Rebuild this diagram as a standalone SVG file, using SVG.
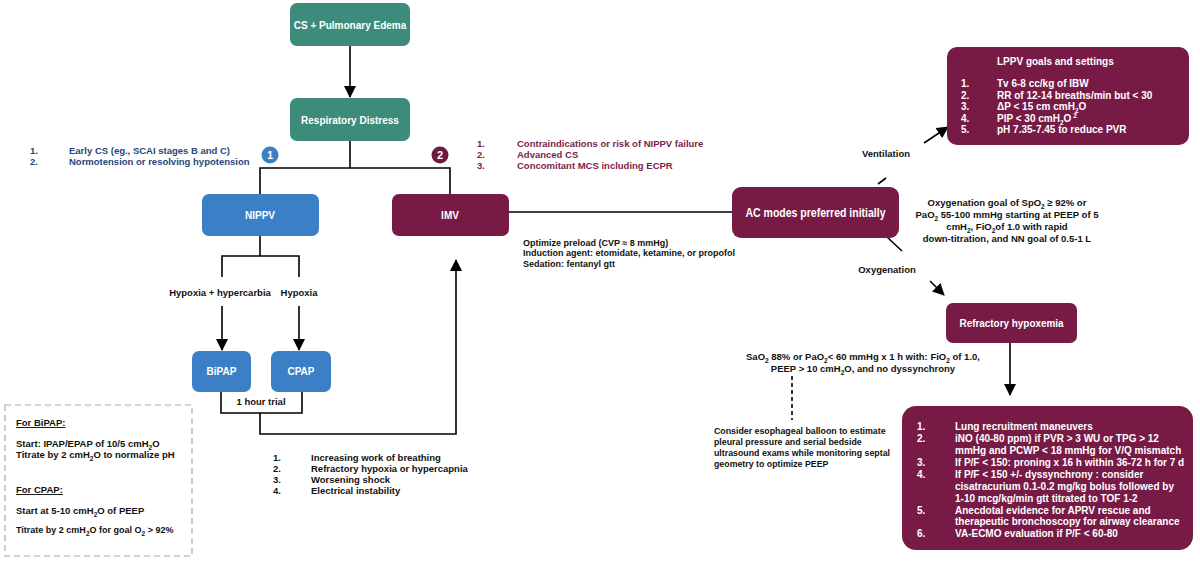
<svg xmlns="http://www.w3.org/2000/svg" width="1200" height="561" viewBox="0 0 1200 561">
<defs>
<marker id="ah" markerUnits="userSpaceOnUse" markerWidth="12" markerHeight="12" viewBox="0 0 12 12" refX="11" refY="6" orient="auto">
<path d="M0,0 L12,6 L0,12 z" fill="#000"/>
</marker>
<style>
text{font-family:"Liberation Sans",Arial,sans-serif;font-weight:bold}
.teal{fill:#3d8c7b}
.blue{fill:#3b7fc6}
.mar{fill:#771b46}
.wl{fill:#fff;font-size:10px;text-anchor:middle}
.con{stroke:#000;stroke-width:1.6;fill:none}
.t{font-size:9.5px;fill:#111}
.c{text-anchor:middle}
.bl{fill:#24487a;font-size:9.5px}
.mt{fill:#7a1f4a;font-size:9.5px}
.w{fill:#fff}
.sub{font-size:6.5px}
</style>
</defs>
<rect width="1200" height="561" fill="#fff"/>

<g id="connectors">
<line class="con" x1="350" y1="46" x2="350" y2="97" marker-end="url(#ah)"/>
<polyline class="con" points="350,141 350,168"/>
<polyline class="con" points="260,194 260,168 450,168 450,194"/>
<polyline class="con" points="260,236 260,256"/>
<polyline class="con" points="222,277 222,256 299,256 299,277"/>
<line class="con" x1="222" y1="306" x2="222" y2="350" marker-end="url(#ah)"/>
<line class="con" x1="299" y1="306" x2="299" y2="350" marker-end="url(#ah)"/>
<polyline class="con" points="221,392 221,413 302,413 302,392"/>
<polyline class="con" points="260,413 260,434 456,434 456,260" marker-end="url(#ah)"/>
<line class="con" x1="509" y1="212" x2="732" y2="212"/>
<line class="con" x1="878" y1="184" x2="886" y2="178"/>
<line class="con" x1="924" y1="143" x2="948" y2="127" marker-end="url(#ah)"/>
<line class="con" x1="887" y1="237" x2="902" y2="251"/>
<line class="con" x1="930" y1="281" x2="944" y2="295" marker-end="url(#ah)"/>
<line class="con" x1="1010" y1="343" x2="1010" y2="395" marker-end="url(#ah)"/>
<line x1="792" y1="376" x2="792" y2="420" stroke="#000" stroke-width="1.6" stroke-dasharray="4,3"/>
</g>

<g id="cs-edema">
<rect class="teal" x="290" y="3" width="120" height="43" rx="7"/>
<text class="wl" x="350" y="28.5">CS + Pulmonary Edema</text>
</g>
<g id="resp-distress">
<rect class="teal" x="290" y="98" width="120" height="43" rx="7"/>
<text class="wl" x="350" y="124">Respiratory Distress</text>
</g>

<g id="badge1">
<circle class="blue" cx="270" cy="155" r="8.5"/>
<text class="wl" x="270" y="159" style="font-size:11px">1</text>
</g>
<g id="badge2">
<circle cx="440" cy="155" r="8.5" fill="#6d1a3f"/>
<text class="wl" x="440" y="159" style="font-size:11px">2</text>
</g>

<g id="nippv-criteria">
<text class="bl" x="30" y="154">1.</text><text class="bl" x="69" y="154">Early CS (eg., SCAI stages B and C)</text>
<text class="bl" x="30" y="165">2.</text><text class="bl" x="69" y="165">Normotension or resolving hypotension</text>
</g>
<g id="imv-criteria">
<text class="mt" x="477" y="147">1.</text><text class="mt" x="517" y="147">Contraindications or risk of NIPPV failure</text>
<text class="mt" x="477" y="158">2.</text><text class="mt" x="517" y="158">Advanced CS</text>
<text class="mt" x="477" y="169">3.</text><text class="mt" x="517" y="169">Concomitant MCS including ECPR</text>
</g>

<g id="nippv">
<rect class="blue" x="202" y="194" width="117" height="42" rx="7"/>
<text class="wl" x="260" y="218.5">NIPPV</text>
</g>
<g id="imv">
<rect class="mar" x="392" y="194" width="117" height="42" rx="7"/>
<text class="wl" x="450" y="218.5">IMV</text>
</g>

<g id="labels">
<text class="t c" x="220" y="295.5">Hypoxia + hypercarbia</text>
<text class="t c" x="299" y="295.5">Hypoxia</text>
<text class="t c" x="261" y="405">1 hour trial</text>
</g>

<g id="bipap">
<rect class="blue" x="192" y="351" width="59" height="41" rx="7"/>
<text class="wl" x="221.5" y="375">BiPAP</text>
</g>
<g id="cpap">
<rect class="blue" x="271" y="351" width="60" height="41" rx="7"/>
<text class="wl" x="301" y="375">CPAP</text>
</g>

<g id="settings-box">
<rect x="5" y="405" width="187" height="151" fill="none" stroke="#aaa" stroke-width="1.2" stroke-dasharray="6,4"/>
<text class="t" x="16" y="426" text-decoration="underline">For BiPAP:</text>
<text class="t" x="16" y="447">Start: IPAP/EPAP of 10/5 cmH<tspan class="sub" dy="3">2</tspan><tspan dy="-3">O</tspan></text>
<text class="t" x="16" y="458">Titrate by 2 cmH<tspan class="sub" dy="3">2</tspan><tspan dy="-3">O to normalize pH</tspan></text>
<text class="t" x="16" y="493" text-decoration="underline">For CPAP:</text>
<text class="t" x="16" y="514">Start at 5-10 cmH<tspan class="sub" dy="3">2</tspan><tspan dy="-3">O of PEEP</tspan></text>
<text class="t" x="16" y="533" style="font-size:9px">Titrate by 2 cmH<tspan class="sub" dy="3">2</tspan><tspan dy="-3">O for goal O</tspan><tspan class="sub" dy="3">2</tspan><tspan dy="-3"> &gt; 92%</tspan></text>
</g>

<g id="escalation">
<text class="t" x="273" y="461">1.</text><text class="t" x="311" y="461">Increasing work of breathing</text>
<text class="t" x="273" y="472">2.</text><text class="t" x="311" y="472">Refractory hypoxia or hypercapnia</text>
<text class="t" x="273" y="483">3.</text><text class="t" x="311" y="483">Worsening shock</text>
<text class="t" x="273" y="494">4.</text><text class="t" x="311" y="494">Electrical instability</text>
</g>

<g id="imv-notes" style="font-size:9px">
<text class="t" x="523" y="246" style="font-size:9px">Optimize preload (CVP ≈ 8 mmHg)</text>
<text class="t" x="523" y="256" style="font-size:9px">Induction agent: etomidate, ketamine, or propofol</text>
<text class="t" x="523" y="267" style="font-size:9px">Sedation: fentanyl gtt</text>
</g>

<g id="ac-modes">
<rect class="mar" x="732" y="187" width="167" height="51" rx="9"/>
<text class="w c" x="815.5" y="216.5" style="font-size:12px" textLength="140" lengthAdjust="spacingAndGlyphs">AC modes preferred initially</text>
</g>

<g id="branch-labels">
<text class="t c" x="886" y="157">Ventilation</text>
<text class="t c" x="887" y="273">Oxygenation</text>
</g>

<g id="oxy-goal">
<text class="t c" x="1007" y="206">Oxygenation goal of SpO<tspan class="sub" dy="3">2</tspan><tspan dy="-3"> ≥ 92% or</tspan></text>
<text class="t c" x="1007" y="218">PaO<tspan class="sub" dy="3">2</tspan><tspan dy="-3"> 55-100 mmHg starting at PEEP of 5</tspan></text>
<text class="t c" x="1007" y="230">cmH<tspan class="sub" dy="3">2</tspan><tspan dy="-3">, FiO</tspan><tspan class="sub" dy="3">2</tspan><tspan dy="-3">of 1.0 with rapid</tspan></text>
<text class="t c" x="1007" y="242">down-titration, and NN goal of 0.5-1 L</text>
</g>

<g id="lppv">
<rect class="mar" x="947" y="47" width="242" height="98" rx="10"/>
<text class="w" x="997" y="65" style="font-size:10px">LPPV goals and settings</text>
<g class="w" style="font-size:10px">
<text class="w" x="961" y="87">1.</text><text class="w" x="997" y="87">Tv 6-8 cc/kg of IBW</text>
<text class="w" x="961" y="98.5">2.</text><text class="w" x="997" y="98.5">RR of 12-14 breaths/min but &lt; 30</text>
<text class="w" x="961" y="110">3.</text><text class="w" x="997" y="110">ΔP &lt; 15 cm cmH<tspan class="sub" dy="3">2</tspan><tspan dy="-3">O</tspan></text>
<text class="w" x="961" y="121.5">4.</text><text class="w" x="997" y="121.5">PIP &lt; 30 cmH<tspan class="sub" dy="3">2</tspan><tspan dy="-3">O</tspan><tspan class="sub" dy="-4"> 2</tspan></text>
<text class="w" x="961" y="133">5.</text><text class="w" x="997" y="133">pH 7.35-7.45 to reduce PVR</text>
</g>
</g>

<g id="refractory">
<rect class="mar" x="946" y="303" width="131" height="40" rx="7"/>
<text class="w c" x="1011.5" y="327" style="font-size:11px" textLength="104" lengthAdjust="spacingAndGlyphs">Refractory hypoxemia</text>
</g>

<g id="refractory-criteria">
<text class="t c" x="863" y="360">SaO<tspan class="sub" dy="3">2</tspan><tspan dy="-3"> 88% or PaO</tspan><tspan class="sub" dy="3">2</tspan><tspan dy="-3">&lt; 60 mmHg x 1 h with: FiO</tspan><tspan class="sub" dy="3">2</tspan><tspan dy="-3"> of 1.0,</tspan></text>
<text class="t c" x="863" y="372">PEEP &gt; 10 cmH<tspan class="sub" dy="3">2</tspan><tspan dy="-3">O, and no dyssynchrony</tspan></text>
</g>

<g id="esophageal-note">
<text class="t" x="714" y="434" style="font-size:8.8px">Consider esophageal balloon to estimate</text>
<text class="t" x="714" y="445" style="font-size:8.8px">pleural pressure and serial bedside</text>
<text class="t" x="714" y="456" style="font-size:8.8px">ultrasound exams while monitoring septal</text>
<text class="t" x="714" y="467" style="font-size:8.8px">geometry to optimize PEEP</text>
</g>

<g id="rescue">
<rect class="mar" x="902" y="406" width="291" height="144" rx="14"/>
<g style="font-size:10px">
<text class="w" x="917" y="430">1.</text><text class="w" x="955" y="430">Lung recruitment maneuvers</text>
<text class="w" x="917" y="442">2.</text><text class="w" x="955" y="442">iNO (40-80 ppm) if PVR &gt; 3 WU or TPG &gt; 12</text>
<text class="w" x="955" y="454">mmHg and PCWP &lt; 18 mmHg for V/Q mismatch</text>
<text class="w" x="917" y="466">3.</text><text class="w" x="955" y="466">If P/F &lt; 150: proning x 16 h within 36-72 h for 7 d</text>
<text class="w" x="917" y="478">4.</text><text class="w" x="955" y="478">If P/F &lt; 150 +/- dyssynchrony : consider</text>
<text class="w" x="955" y="490">cisatracurium 0.1-0.2 mg/kg bolus followed by</text>
<text class="w" x="955" y="502">1-10 mcg/kg/min gtt titrated to TOF 1-2</text>
<text class="w" x="917" y="514">5.</text><text class="w" x="955" y="514">Anecdotal evidence for APRV rescue and</text>
<text class="w" x="955" y="525">therapeutic bronchoscopy for airway clearance</text>
<text class="w" x="917" y="537">6.</text><text class="w" x="955" y="537">VA-ECMO evaluation if P/F &lt; 60-80</text>
</g>
</g>
</svg>
